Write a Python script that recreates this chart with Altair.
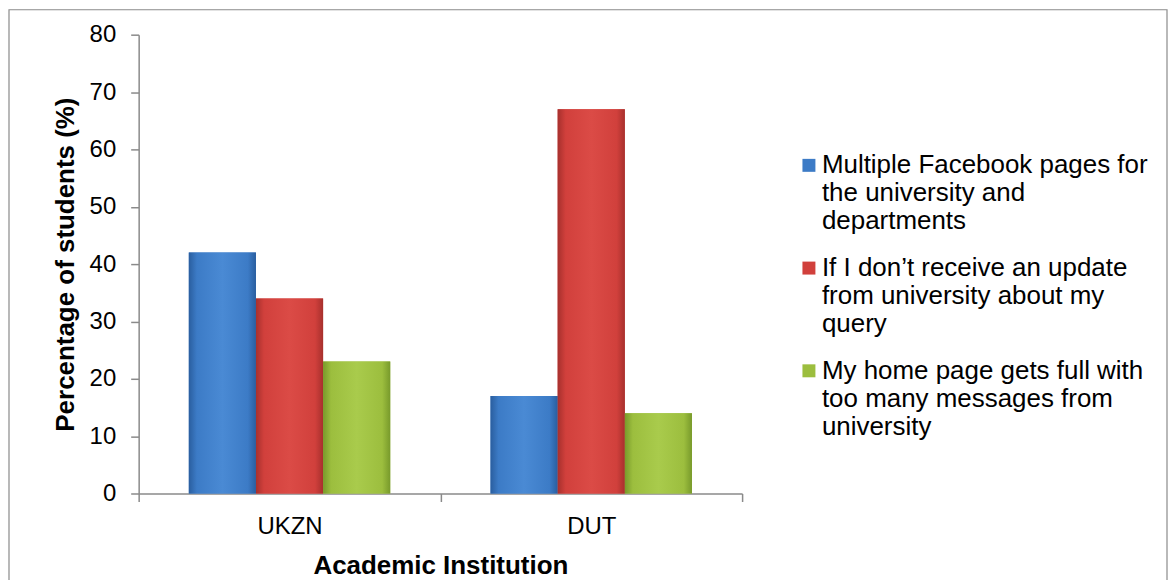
import altair as alt
import pandas as pd

institutions = ["UKZN", "DUT"]
series_lines = [
    ["Multiple Facebook pages for", "the university and", "departments"],
    ["If I don’t receive an update", "from university about my", "query"],
    ["My home page gets full with", "too many messages from", "university"],
]
series = [" ".join(l) for l in series_lines]
values = {
    "UKZN": [42, 34, 23],
    "DUT": [17, 67, 14],
}
colors = ["#3C7BC6", "#D1403C", "#9CBE3E"]
edge_colors = ["#2A5E9F", "#A7302D", "#789A2B"]
light_colors = ["#4A8AD4", "#DB4B46", "#A9CB4C"]
y_ticks = [0, 10, 20, 30, 40, 50, 60, 70, 80]

rows = []
for inst in institutions:
    for s, v in zip(series, values[inst]):
        rows.append({"inst": inst, "series": s, "value": v})
df = pd.DataFrame(rows)

# label expression mapping full names to wrapped lines
expr = "datum.label"
for s, lines in reversed(list(zip(series, series_lines))):
    arr = "[" + ",".join("'" + l + "'" for l in lines) + "]"
    expr = f"datum.label == '{s}' ? {arr} : ({expr})"

FONT = "Liberation Sans"
AXC = "#8a8a8a"

x_enc = alt.X("inst:N", sort=institutions, title="Academic Institution",
              scale=alt.Scale(paddingInner=0, paddingOuter=0),
              axis=alt.Axis(labelAngle=0, tickBand="extent", labelPadding=13,
                            titlePadding=14))
xo_enc = alt.XOffset("series:N", sort=series,
                     scale=alt.Scale(domain=series, paddingInner=0, paddingOuter=0.747))
y_enc = alt.Y("value:Q", title="Percentage of students (%)",
              scale=alt.Scale(domain=[0, 80], nice=False),
              axis=alt.Axis(values=y_ticks, labelPadding=15, titlePadding=11))

base = alt.Chart(df).encode(x=x_enc, xOffset=xo_enc, y=y_enc)

bars = base.mark_bar(stroke=None).encode(
    color=alt.Color("series:N", sort=series,
                    scale=alt.Scale(domain=series, range=colors),
                    legend=alt.Legend(title=None, orient="none", legendX=659,
                                      legendY=118, padding=0,
                                      symbolType="square", symbolSize=169,
                                      symbolStrokeWidth=0,
                                      labelExpr=expr, labelLimit=500,
                                      labelOffset=0, rowPadding=21,
                                      labelFontSize=26, labelFont=FONT,
                                      labelColor="#000")),
)

shade_layers = []
for s, c, e, l in zip(series, colors, edge_colors, light_colors):
    grad = alt.Gradient(
        gradient="linear", x1=0, x2=1, y1=0, y2=0,
        stops=[alt.GradientStop(color=e, offset=0),
               alt.GradientStop(color=c, offset=0.12),
               alt.GradientStop(color=l, offset=0.5),
               alt.GradientStop(color=c, offset=0.88),
               alt.GradientStop(color=e, offset=1)])
    shade_layers.append(
        base.transform_filter(alt.datum.series == s).mark_bar(color=grad, stroke=None)
    )

frame = alt.Chart(pd.DataFrame({"a": [0]})).mark_rect(
    fillOpacity=0, stroke="#8a8a8a", strokeWidth=1.2
).encode(x=alt.value(-130), x2=alt.value(1031), y=alt.value(-25), y2=alt.value(555))

chart = alt.layer(frame, bars, *shade_layers).properties(
    width=605, height=460, padding=0
).configure_view(stroke=None).configure_axis(
    grid=False, domainColor=AXC, tickColor=AXC, domainWidth=1.5, tickWidth=1.5,
    tickSize=8, labelFont=FONT, titleFont=FONT, labelFontSize=24,
    titleFontSize=26, titleFontWeight="bold", labelColor="#000",
    titleColor="#000"
)

chart.save("out.html", embed_options={"renderer": "svg", "actions": False})
